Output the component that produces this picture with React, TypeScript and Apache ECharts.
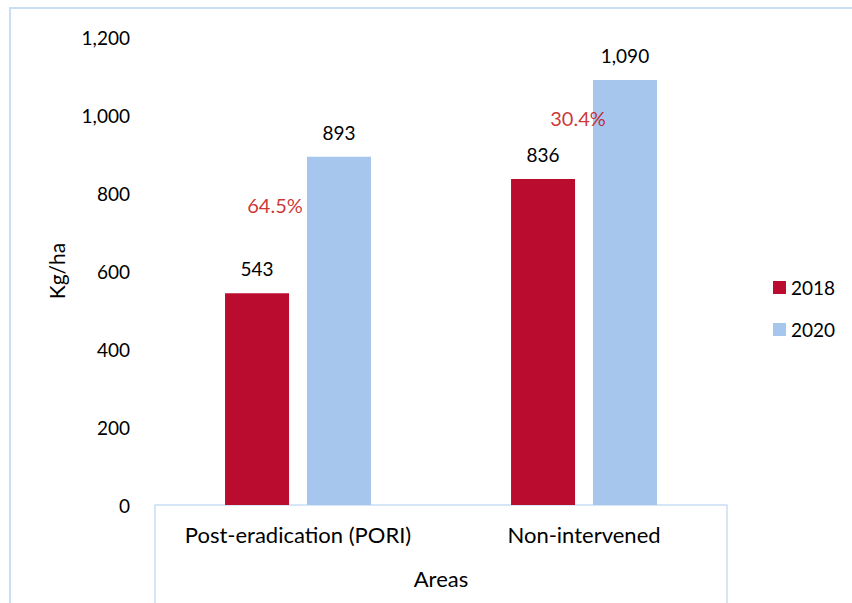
import React, { useEffect, useRef } from "react";
import * as echarts from "echarts";

const categories = ["Post-eradication (PORI)", "Non-intervened"];
const years = ["2018", "2020"];
const values2018 = [543, 836];
const values2020 = [893, 1090];
// Where each growth label sits: value height and horizontal offset from the category centre
const growthLabelY = [769, 992];
const growthLabelDx = [-23, -6];

const RED = "#BA0C2F";
const BLUE = "#A7C6ED";
const FRAME = "#C9DEF5";
const FONT = "Lato, 'Open Sans', sans-serif";
const NUM_SIZE = 19;
const WORD_SIZE = 22;

const fmt = (v: number) => v.toLocaleString("en-US");

export default function App() {
  const ref = useRef<HTMLDivElement>(null);

  useEffect(() => {
    if (!ref.current) return;
    const chart = echarts.init(ref.current, undefined, { renderer: "svg" });

    const growth = values2018.map((v, i) => ((values2020[i] - v) / v) * 100);

    const gridLeft = 155;
    const gridRight = 125;
    const gridTop = 37;
    const gridBottom = 98;
    const W = 852;
    const H = 603;

    const valueLabel = {
      show: true,
      position: "top",
      distance: 15,
      fontSize: NUM_SIZE,
      color: "#000",
      fontFamily: FONT,
      formatter: (p: any) => fmt(p.value),
    };

    chart.setOption({
      animation: false,
      textStyle: { fontFamily: FONT },
      grid: { left: gridLeft, right: gridRight, top: gridTop, bottom: gridBottom, containLabel: false },
      legend: {
        orient: "vertical",
        left: 768,
        top: 273,
        itemWidth: 13,
        itemHeight: 13,
        itemGap: 23,
        icon: "rect",
        textStyle: { fontSize: NUM_SIZE, color: "#000", fontFamily: FONT },
        data: years,
      },
      xAxis: {
        type: "category",
        data: categories,
        name: "Areas",
        nameLocation: "middle",
        nameGap: 62,
        nameTextStyle: { fontSize: WORD_SIZE, color: "#000", fontFamily: FONT },
        axisLine: { show: true, lineStyle: { color: FRAME, width: 1.5 } },
        axisTick: { show: false },
        axisLabel: {
          interval: 0,
          hideOverlap: false,
          fontSize: WORD_SIZE,
          color: "#000",
          margin: 18,
          fontFamily: FONT,
        },
      },
      yAxis: {
        type: "value",
        min: 0,
        max: 1200,
        interval: 200,
        name: "Kg/ha",
        nameLocation: "middle",
        nameGap: 88,
        nameRotate: 90,
        nameTextStyle: { fontSize: WORD_SIZE - 1, color: "#000", fontFamily: FONT },
        axisLine: { show: false },
        axisTick: { show: false },
        splitLine: { show: false },
        axisLabel: {
          fontSize: NUM_SIZE,
          color: "#000",
          margin: 25,
          fontFamily: FONT,
          formatter: (v: number) => fmt(v),
        },
      },
      series: [
        {
          name: years[0],
          type: "bar",
          data: values2018,
          barWidth: 64,
          barGap: "28%",
          itemStyle: { color: RED },
          label: valueLabel,
        },
        {
          name: years[1],
          type: "bar",
          data: values2020,
          barWidth: 64,
          barGap: "28%",
          itemStyle: { color: BLUE },
          label: valueLabel,
        },
        {
          name: "growth",
          type: "scatter",
          symbolSize: 0,
          silent: true,
          z: 5,
          data: categories.map((c, i) => ({
            value: [c, growthLabelY[i]],
            label: {
              show: true,
              position: "inside",
              offset: [growthLabelDx[i], 0],
              formatter: () => growth[i].toFixed(1) + "%",
              fontSize: NUM_SIZE + 1,
              color: "#C00000",
              fontFamily: FONT,
            },
          })),
        },
      ],
      graphic: [
        {
          type: "rect",
          silent: true,
          shape: { x: 10, y: 8, width: W + 20, height: H + 20 },
          style: { fill: "none", stroke: FRAME, lineWidth: 2 },
        },
        {
          type: "line",
          silent: true,
          shape: { x1: gridLeft, y1: H - gridBottom, x2: gridLeft, y2: H },
          style: { stroke: FRAME, lineWidth: 1.5 },
        },
        {
          type: "line",
          silent: true,
          shape: { x1: W - gridRight, y1: H - gridBottom, x2: W - gridRight, y2: H },
          style: { stroke: FRAME, lineWidth: 1.5 },
        },
      ],
    });

    return () => chart.dispose();
  }, []);

  return (
    <div
      ref={ref}
      style={{ position: "fixed", left: 0, top: 0, width: 852, height: 603, background: "#fff" }}
    />
  );
}
